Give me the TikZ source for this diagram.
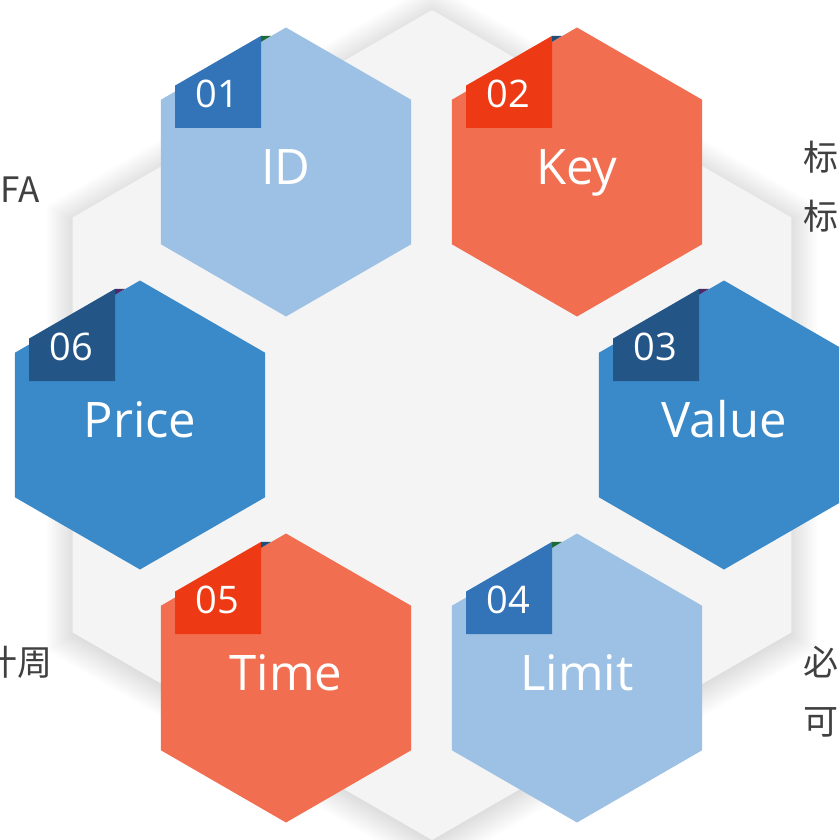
\documentclass[tikz,border=0pt]{standalone}
\usepackage{fontspec}
\setmainfont{Open Sans}
\newfontfamily\cjk{Noto Sans CJK SC}
\definecolor{bghex}{HTML}{F4F4F4}
\definecolor{lblue}{HTML}{9DC1E4}
\definecolor{lbluetab}{HTML}{3374B9}
\definecolor{orng}{HTML}{F26E50}
\definecolor{orngtab}{HTML}{EE3A14}
\definecolor{mblue}{HTML}{3A89C9}
\definecolor{mbluetab}{HTML}{245587}
\definecolor{foldgreen}{HTML}{1E6B3A}
\definecolor{foldblue}{HTML}{1F4E79}
\definecolor{foldpurple}{HTML}{4B2A6B}
\definecolor{sidegray}{HTML}{404040}
\tikzset{
  numtext/.style={text=white,inner sep=0pt,font=\fontsize{38}{44}\selectfont},
  labeltext/.style={text=white,inner sep=0pt,anchor=base,font=\fontsize{49}{56}\selectfont},
  sidetext/.style={text=sidegray,inner sep=0pt,font=\cjk\fontsize{35}{40}\selectfont},
  shadowlayer/.style={fill=black,fill opacity=0.0095},
}
% #1 cx, #2 cy, #3 hex colour, #4 tab colour, #5 fold colour, #6 number, #7 label, #8 name
\newcommand\hexunit[8]{%
  \begin{scope}[shift={(#1,#2)}]
    \fill[#3] (90:144.5) -- (30:144.5) -- (-30:144.5) -- (-90:144.5) -- (-150:144.5) -- (150:144.5) -- cycle;
    \fill[#4] (-111,-44) -- (-111,-86.4) -- (-25,-136.1) -- (-25,-44) -- cycle;
    \fill[#5] (-25,-136.1) -- (-15,-136.1) -- (-25,-130.1) -- cycle;
    \node[numtext] (#8num) at (-69,-78) {#6};
    \node[labeltext] (#8lbl) at (0,12) {#7};
  \end{scope}}
\begin{document}
\begin{tikzpicture}[x=1pt,y=-1pt]
\useasboundingbox (0,0) rectangle (839,840);
\clip (0,0) rectangle (839,840);
\fill[white] (0,0) rectangle (839,840);
% soft shadow of the large hexagon
\foreach \r in {385,387,...,445}{
  \fill[shadowlayer] (432,428) +(90:\r) -- +(30:\r) -- +(-30:\r) -- +(-90:\r) -- +(-150:\r) -- +(150:\r) -- cycle;
}
% large background hexagon
\fill[bghex]
  (432,425) +(90:415) -- +(30:415) -- +(-30:415) -- +(-90:415) -- +(-150:415) -- +(150:415) -- cycle;
% six hexagons
\hexunit{286}{172}{lblue}{lbluetab}{foldgreen}{01}{ID}{id}
\hexunit{577}{172}{orng}{orngtab}{foldblue}{02}{Key}{key}
\hexunit{724}{425}{mblue}{mbluetab}{foldpurple}{03}{Value}{value}
\hexunit{577}{678}{lblue}{lbluetab}{foldgreen}{04}{Limit}{limit}
\hexunit{286}{678}{orng}{orngtab}{foldblue}{05}{Time}{time}
\hexunit{140}{425}{mblue}{mbluetab}{foldpurple}{06}{Price}{price}
% side texts (cut by the frame)
\node[sidetext,anchor=base west] (sfa) at (0,202) {FA};
\node[sidetext] (sbiao1) at (821,157) {标};
\node[sidetext] (sbiao2) at (821,216) {标};
\node[sidetext,anchor=east] (szhou) at (53,662) {计周};
\node[sidetext] (sbi) at (821,662) {必};
\node[sidetext] (ske) at (821,722) {可};
\end{tikzpicture}
\end{document}
